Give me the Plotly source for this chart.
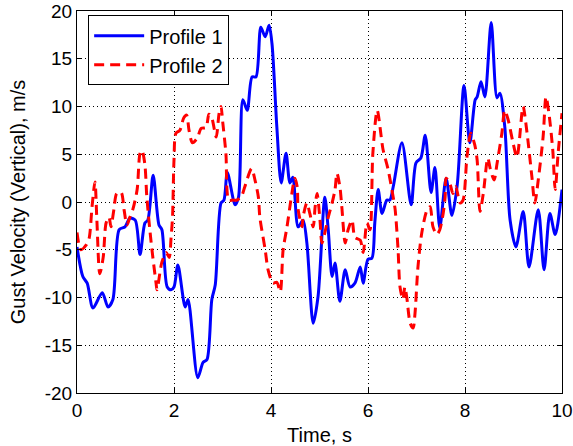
import plotly.graph_objects as go

# Profile 1 (blue, solid)
t1 = [0.00, 0.12, 0.21, 0.33, 0.52, 0.64, 0.74, 0.87, 0.99, 1.09, 1.20, 1.30, 1.40, 1.46,
      1.57, 1.69, 1.75, 1.86, 1.94, 2.00, 2.08, 2.23, 2.29, 2.49, 2.60, 2.68, 2.78, 2.85,
      2.97, 3.03, 3.10, 3.26, 3.33, 3.42, 3.51, 3.61, 3.69, 3.79, 3.88, 3.96, 4.02, 4.12,
      4.21, 4.31, 4.39, 4.45, 4.56, 4.66, 4.74, 4.87, 4.97, 5.11, 5.18, 5.26, 5.32, 5.42,
      5.53, 5.63, 5.73, 5.84, 5.90, 6.00, 6.08, 6.14, 6.21, 6.29, 6.39, 6.45, 6.52, 6.70,
      6.89, 6.99, 7.09, 7.18, 7.30, 7.38, 7.48, 7.61, 7.73, 7.84, 7.98, 8.10, 8.21, 8.25,
      8.33, 8.41, 8.54, 8.66, 8.72, 8.82, 8.93, 9.05, 9.20, 9.32, 9.51, 9.63, 9.75, 9.86, 10.0]
v1 = [-4.7, -7.8, -8.5, -11.1, -9.5, -11.0, -10.2, -2.9, -2.6, -1.7, -1.9, -5.5, -2.2, -1.9,
      2.8, -2.4, -2.9, -8.9, -9.2, -8.9, -6.6, -11.0, -10.2, -18.4, -16.8, -16.5, -10.2, -8.7,
      -0.1, 0.2, 3.1, -0.3, 0.5, 10.7, 9.6, 13.1, 13.1, 18.3, 17.3, 18.5, 16.6, 7.9,
      2.0, 5.1, 2.0, 2.6, -2.6, -1.9, -4.3, -12.7, -9.9, 0.5, -2.9, -7.8, -6.4, -10.4,
      -7.1, -8.9, -8.5, -6.8, -8.5, -6.0, -5.9, -2.2, 1.3, -1.2, 0.2, 0.2, 1.6, 6.2,
      -0.3, 4.1, 4.6, 7.0, 1.0, 3.6, -2.7, 2.5, -1.4, 1.8, 12.2, 6.2, 10.7, 11.0,
      12.6, 11.0, 18.8, 10.9, 11.4, 7.9, -1.9, -4.7, -1.0, -6.8, -0.8, -7.1, -1.2, -3.4, 1.3]

# Profile 2 (red, dashed)
t2 = [0.00, 0.08, 0.19, 0.25, 0.31, 0.37, 0.41, 0.47, 0.54, 0.60, 0.66, 0.70, 0.76, 0.82,
      0.91, 0.97, 1.03, 1.09, 1.15, 1.24, 1.30, 1.34, 1.40, 1.44, 1.53, 1.63, 1.65, 1.75,
      1.84, 1.90, 1.94, 1.97, 2.00, 2.04, 2.12, 2.20, 2.26, 2.31, 2.38, 2.48, 2.56, 2.66,
      2.72, 2.78, 2.87, 2.93, 2.97, 3.00, 3.07, 3.13, 3.21, 3.30, 3.40, 3.46, 3.60, 3.67,
      3.74, 3.77, 3.88, 3.94, 4.04, 4.12, 4.19, 4.25, 4.33, 4.43, 4.49, 4.54, 4.56, 4.64,
      4.66, 4.74, 4.80, 4.87, 4.91, 4.95, 5.01, 5.05, 5.12, 5.18, 5.26, 5.32, 5.36, 5.42,
      5.46, 5.53, 5.59, 5.67, 5.73, 5.84, 5.90, 5.98, 6.04, 6.10, 6.19, 6.31, 6.41, 6.52,
      6.56, 6.62, 6.66, 6.72, 6.76, 6.80, 6.87, 6.93, 6.97, 7.03, 7.11, 7.22, 7.28, 7.34,
      7.42, 7.48, 7.55, 7.59, 7.61, 7.69, 7.75, 7.81, 7.90, 7.96, 8.04, 8.12, 8.20, 8.25,
      8.31, 8.38, 8.47, 8.52, 8.60, 8.66, 8.76, 8.82, 8.89, 8.99, 9.07, 9.18, 9.20, 9.28,
      9.38, 9.44, 9.51, 9.61, 9.67, 9.73, 9.81, 9.86, 9.92, 10.0]
v2 = [-3.2, -5.0, -4.5, -3.8, -0.5, 2.1, -1.9, -7.5, -5.8, -2.2, -1.6, -2.6, -0.8, 0.9,
      1.0, -0.8, -2.4, -1.6, -0.8, 1.3, 5.1, 5.4, 3.9, 0.5, -4.3, -8.5, -9.2, -6.3,
      -5.3, -5.8, -3.7, -1.5, 4.4, 7.2, 7.5, 8.8, 9.1, 7.5, 6.2, 6.7, 7.7, 7.8,
      9.2, 8.8, 6.8, 9.3, 10.0, 8.6, 5.1, 0.2, 0.2, 0.2, 0.7, 1.6, 3.5, 2.3,
      0.5, -1.6, -5.0, -7.1, -8.5, -8.4, -9.4, -5.0, -2.6, 0.9, 2.5, 1.6, -0.8, -2.6,
      -1.6, -0.1, -1.2, -2.6, -0.5, 0.9, -1.9, -4.3, -3.0, -1.6, -0.1, 1.3, 3.0, 1.6,
      -0.5, -4.3, -2.9, -1.9, -3.7, -4.0, -5.3, -2.2, -2.9, 5.1, 9.6, 5.5, 3.5, 0.5,
      -0.8, -5.0, -8.9, -10.2, -8.9, -10.0, -12.7, -13.2, -11.6, -6.8, -3.2, -0.8, -0.5, -2.6,
      -3.4, -2.9, -1.2, 0.5, 2.5, 1.9, 0.9, 1.6, -0.1, 0.2, 4.7, 7.2, 6.0, 4.4,
      -1.0, 1.0, 4.6, 3.5, 2.3, 4.0, 7.2, 9.6, 8.6, 6.2, 4.7, 9.6, 10.0, 7.2,
      2.6, -0.1, 2.3, 6.8, 11.0, 9.3, 5.4, 1.3, 5.1, 9.3]

x_ticks = [0, 2, 4, 6, 8, 10]
y_ticks = [-20, -15, -10, -5, 0, 5, 10, 15, 20]

FONT = "Liberation Sans, Arial, Helvetica, sans-serif"

fig = go.Figure()
fig.add_trace(go.Scatter(x=t1, y=v1, mode="lines", name="Profile 1",
                         line=dict(color="#0000ff", width=3, shape="spline", smoothing=0.8)))
fig.add_trace(go.Scatter(x=t2, y=v2, mode="lines", name="Profile 2",
                         line=dict(color="#ff0000", width=3, dash="10px,6px",
                                   shape="spline", smoothing=0.8)))

axis_common = dict(
    showline=True, linecolor="black", linewidth=1, mirror="ticks",
    ticks="inside", ticklen=5, tickcolor="black", tickwidth=1,
    showgrid=True, gridcolor="black", gridwidth=1, griddash="1px,3px",
    zeroline=False, automargin=False,
    tickfont=dict(family=FONT, size=19, color="black"),
)

fig.update_xaxes(range=[0, 10], tickvals=x_ticks, ticktext=[str(v) for v in x_ticks],
                 title=dict(text="Time, s", font=dict(family=FONT, size=20, color="black"),
                            standoff=10),
                 **axis_common)
fig.update_yaxes(range=[-20, 20], tickvals=y_ticks, ticktext=[str(v) for v in y_ticks],
                 title=dict(text="Gust Velocity (Vertical), m/s",
                            font=dict(family=FONT, size=20, color="black"), standoff=13),
                 **axis_common)

fig.update_layout(
    width=573, height=446,
    margin=dict(l=77, r=11, t=11, b=53, autoexpand=False),
    paper_bgcolor="white", plot_bgcolor="white",
    font=dict(family=FONT, color="black"),
    legend=dict(x=0.023, y=0.989, xanchor="left", yanchor="top",
                bgcolor="white", bordercolor="black", borderwidth=1,
                font=dict(family=FONT, size=20, color="black"),
                itemwidth=50, tracegroupgap=0),
    showlegend=True,
)

fig.write_html("out.html")
